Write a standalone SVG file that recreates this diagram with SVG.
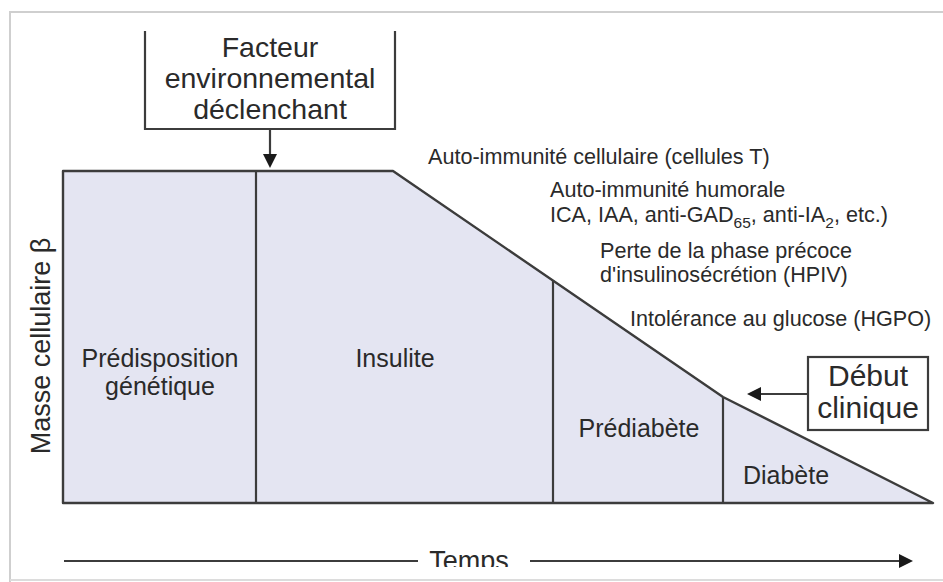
<svg xmlns="http://www.w3.org/2000/svg" width="943" height="582" viewBox="0 0 943 582">
<defs>
<style>
.t{font-family:"Liberation Sans",Arial,sans-serif;fill:#2a2a2a}
.ln{fill:none;stroke:#3c3c3c;stroke-width:2.2}
.zone{fill:#e4e5f2;stroke:#3c3c3c;stroke-width:2.4;stroke-linejoin:round}
.ah{fill:#1a1a1a}
.small{font-size:21.6px}
</style>
<clipPath id="clipBottom"><rect x="0" y="0" width="943" height="567"/></clipPath>
</defs>
<rect x="0" y="0" width="943" height="582" fill="#ffffff"/>
<path d="M10,582 V12 H943" fill="none" stroke="#cfcfcf" stroke-width="2"/>
<line x1="10" y1="580" x2="943" y2="580" stroke="#dcdcdc" stroke-width="2"/>

<g id="shape">
<polygon class="zone" points="63,171 393,171 723,397 933,503 63,503"/>
</g>
<g id="dividers">
<line class="ln" x1="256" y1="171" x2="256" y2="503"/>
<line class="ln" x1="553" y1="280" x2="553" y2="503"/>
<line class="ln" x1="723" y1="397" x2="723" y2="503"/>
</g>

<g id="node-predisposition">
<text class="t" x="160" y="367" font-size="25" text-anchor="middle">Prédisposition</text>
<text class="t" x="160" y="395" font-size="25" text-anchor="middle">génétique</text>
</g>
<g id="node-insulite">
<text class="t" x="395" y="367" font-size="25" text-anchor="middle">Insulite</text>
</g>
<g id="node-prediabete">
<text class="t" x="639" y="437" font-size="25" text-anchor="middle">Prédiabète</text>
</g>
<g id="node-diabete">
<text class="t" x="786" y="484" font-size="25" text-anchor="middle">Diabète</text>
</g>

<g id="node-facteur">
<path class="ln" d="M145,31 V129 H395 V31"/>
<text class="t" x="270" y="57" font-size="28.5" text-anchor="middle">Facteur</text>
<text class="t" x="270" y="88" font-size="28.5" text-anchor="middle">environnemental</text>
<text class="t" x="270" y="119" font-size="28.5" text-anchor="middle">déclenchant</text>
</g>

<g id="node-debut">
<rect class="ln" x="808" y="357" width="120" height="73"/>
<text class="t" x="868" y="386" font-size="30" text-anchor="middle">Début</text>
<text class="t" x="868" y="418" font-size="30" text-anchor="middle">clinique</text>
</g>

<g id="annotations">
<text class="t small" x="428" y="164">Auto-immunité cellulaire (cellules T)</text>
<text class="t small" x="550" y="197">Auto-immunité humorale</text>
<text class="t small" x="550" y="222">ICA, IAA, anti-GAD<tspan font-size="15.5" dy="6">65</tspan><tspan dy="-6">, anti-IA</tspan><tspan font-size="15.5" dy="6">2</tspan><tspan dy="-6">, etc.)</tspan></text>
<text class="t small" x="600" y="258">Perte de la phase précoce</text>
<text class="t small" x="600" y="282">d'insulinosécrétion (HPIV)</text>
<text class="t small" x="630" y="326">Intolérance au glucose (HGPO)</text>
</g>

<g id="axis-y">
<text class="t" transform="translate(50,346) rotate(-90)" font-size="27" text-anchor="middle">Masse cellulaire β</text>
</g>
<g id="axis-x">
<text class="t" x="469" y="570" font-size="27" text-anchor="middle" clip-path="url(#clipBottom)">Temps</text>
</g>

<g id="connectors">
<line class="ln" x1="270" y1="129" x2="270" y2="156"/>
<polygon class="ah" points="263,154 277,154 270,168"/>
<line class="ln" x1="808" y1="394" x2="758" y2="394"/>
<polygon class="ah" points="747,394 761,387 761,401"/>
<line class="ln" x1="64" y1="561" x2="418" y2="561"/>
<line class="ln" x1="530" y1="561" x2="902" y2="561"/>
<polygon class="ah" points="913,561 899,554 899,568"/>
</g>
</svg>
